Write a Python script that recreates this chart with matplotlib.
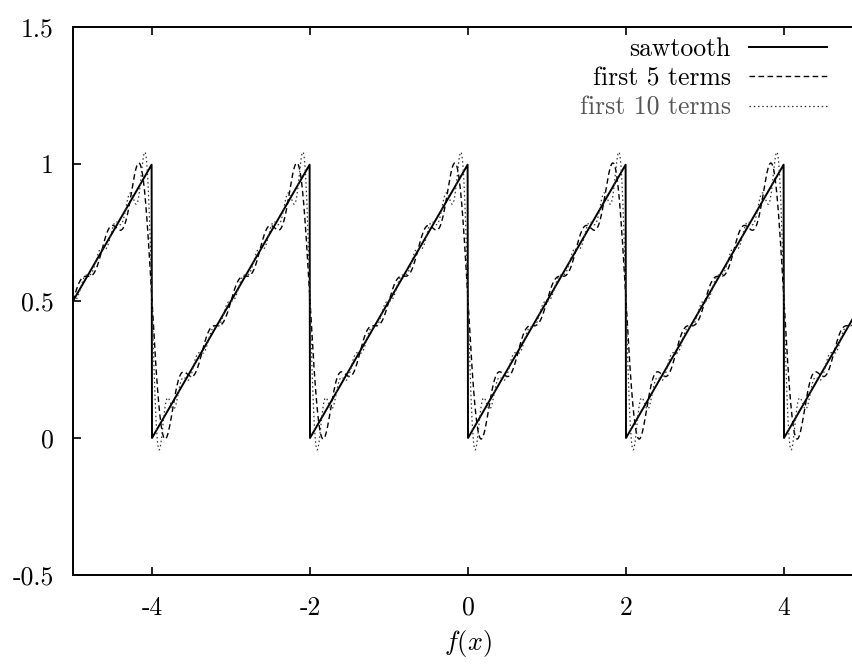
import numpy as np
import matplotlib
matplotlib.use("Agg")
import matplotlib.pyplot as plt

# Sawtooth of period 2, rising from 0 to 1, and its Fourier partial sums
period = 2.0
x_range = (-5.0, 5.0)
n_samples = 2001
term_counts = [5, 10]
labels = ["sawtooth", "first 5 terms", "first 10 terms"]
label_colors = ["black", "black", "#555555"]

x_ticks = [-4, -2, 0, 2, 4]
x_tick_labels = ["-4", "-2", "0", "2", "4"]
y_ticks = [-0.5, 0, 0.5, 1, 1.5]
y_tick_labels = ["-0.5", "0", "0.5", "1", "1.5"]

plt.rcParams["font.family"] = "serif"
plt.rcParams["font.serif"] = ["cmr10", "DejaVu Serif"]
plt.rcParams["mathtext.fontset"] = "cm"
plt.rcParams["axes.formatter.use_mathtext"] = True

x = np.linspace(x_range[0], x_range[1], n_samples)
saw = np.mod(x, period) / period


def partial_sum(x, n):
    s = np.full_like(x, 0.5)
    for k in range(1, n + 1):
        s -= np.sin(2 * np.pi * k * x / period) / (np.pi * k)
    return s


fig = plt.figure(figsize=(8.52, 6.64), dpi=100)
W, H = 852, 664
left, right, top, bottom = 73, 73 + 790, 27, 575
ax = fig.add_axes([left / W, 1 - bottom / H, (right - left) / W, (bottom - top) / H])

ax.plot(x, saw, color="black", lw=1.4, label=labels[0])
ax.plot(x, partial_sum(x, term_counts[0]), color="black", lw=1.0,
        dashes=(4, 2.5), label=labels[1])
ax.plot(x, partial_sum(x, term_counts[1]), color="#333333", lw=0.9,
        dashes=(1.2, 2.2), label=labels[2])

ax.set_xlim(*x_range)
ax.set_ylim(-0.5, 1.5)
ax.set_xticks(x_ticks)
ax.set_xticklabels(x_tick_labels)
ax.set_yticks(y_ticks)
ax.set_yticklabels(y_tick_labels)
ax.tick_params(direction="in", length=6, width=1.2, top=True, right=True,
               labelsize=18.5)
ax.tick_params(axis="x", pad=15)
ax.tick_params(axis="y", pad=14)
for sp in ax.spines.values():
    sp.set_linewidth(1.4)

ax.set_xlabel(r"$f(x)$", fontsize=19, labelpad=6)

leg = ax.legend(loc="upper right", bbox_to_anchor=(827 / W, 1 - 37 / H),
                bbox_transform=fig.transFigure, frameon=False, markerfirst=False,
                fontsize=18.5, handlelength=3.05, handletextpad=0.7,
                borderpad=0, borderaxespad=0, labelspacing=0.22)
for t, c in zip(leg.get_texts(), label_colors):
    t.set_color(c)

fig.savefig("out.png", dpi=100)
